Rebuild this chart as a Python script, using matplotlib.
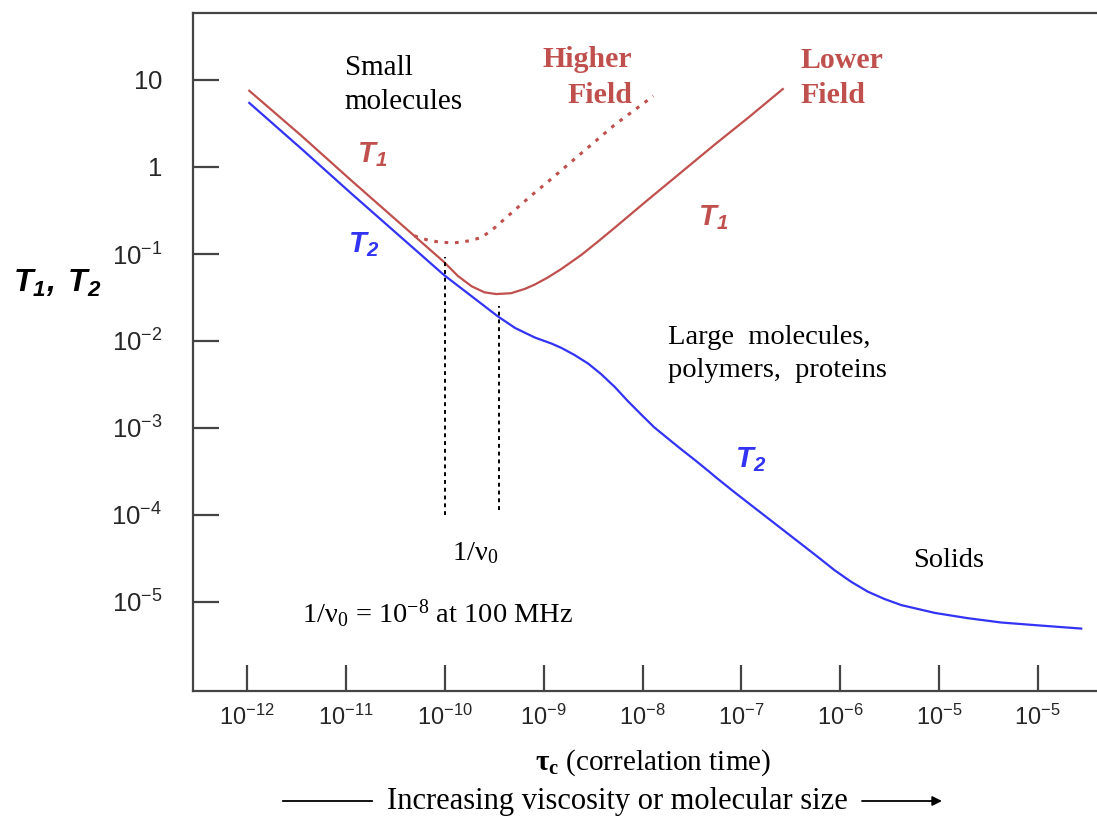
import numpy as np
import matplotlib
matplotlib.use("Agg")
import matplotlib.pyplot as plt
from matplotlib.lines import Line2D

plt.rcParams["font.family"] = "Liberation Serif"
plt.rcParams["mathtext.fontset"] = "custom"
plt.rcParams["mathtext.rm"] = "Liberation Serif"
plt.rcParams["mathtext.it"] = "Liberation Serif:italic"
plt.rcParams["mathtext.bf"] = "Liberation Serif:bold"
plt.rcParams["mathtext.sf"] = "Liberation Sans"
plt.rcParams["mathtext.bfit"] = "Liberation Sans:italic:bold"

# curves, as log10(tau_c) / log10(T)
t1_low_x = [-11.98, -11.45, -10.95, -10.44, -10.14, -10.01, -9.87, -9.73, -9.60,
            -9.48, -9.33, -9.19, -9.09, -8.96, -8.82, -8.62, -8.45, -8.28,
            -7.94, -7.61, -7.27, -6.93, -6.58]
t1_low_y = [0.88, 0.36, -0.15, -0.66, -0.96, -1.09, -1.25, -1.37, -1.44,
            -1.46, -1.45, -1.40, -1.35, -1.27, -1.17, -1.01, -0.855, -0.695,
            -0.37, -0.06, 0.26, 0.57, 0.90]

t1_high_x = [-10.31, -10.17, -10.04, -9.90, -9.77, -9.63, -9.50, -9.30, -9.13,
             -8.96, -8.62, -8.28, -7.89]
t1_high_y = [-0.79, -0.84, -0.865, -0.87, -0.85, -0.81, -0.70, -0.50, -0.33,
             -0.17, 0.16, 0.49, 0.82]

t2_x = [-11.98, -11.45, -10.95, -10.31, -10.01, -9.77, -9.46, -9.29, -9.09, -8.92,
        -8.82, -8.69, -8.55, -8.42, -8.28, -8.15, -8.01, -7.88, -7.74, -7.61,
        -7.47, -7.34, -7.24, -7.07, -6.90, -6.73, -6.56, -6.39, -6.22, -6.06,
        -5.89, -5.72, -5.55, -5.38, -5.04, -4.71, -4.37, -4.03, -3.56]
t2_y = [0.74, 0.21, -0.30, -0.94, -1.24, -1.45, -1.72, -1.85, -1.96, -2.03,
        -2.08, -2.16, -2.26, -2.38, -2.53, -2.69, -2.85, -2.995, -3.125, -3.245,
        -3.37, -3.49, -3.585, -3.74, -3.89, -4.04, -4.19, -4.34, -4.49, -4.635,
        -4.77, -4.885, -4.97, -5.04, -5.13, -5.19, -5.24, -5.27, -5.31]

# 1/nu0 markers: tau_c, top and bottom of each dashed line
marker_tau = [1e-10, 3.5e-10]
marker_top = [0.093, 0.025]
marker_bottom = [1e-4, 1.13e-4]

x_ticks = [1e-12, 1e-11, 1e-10, 1e-9, 1e-8, 1e-7, 1e-6, 1e-5, 1e-4]
x_labels = ["-12", "-11", "-10", "-9", "-8", "-7", "-6", "-5", "-5"]
y_ticks = [10, 1, 1e-1, 1e-2, 1e-3, 1e-4, 1e-5]
y_labels = ["10", "1", "10^{-1}", "10^{-2}", "10^{-3}", "10^{-4}", "10^{-5}"]

red = "#C0504D"
blue = "#3333F5"
axis_col = "#444444"

fig = plt.figure(figsize=(10.97, 8.18), dpi=100)
ax = fig.add_axes([0.1759, 0.1553, 0.8241, 0.8287])
ax.set_xscale("log")
ax.set_yscale("log")

ax.plot(10 ** np.array(t1_low_x), 10 ** np.array(t1_low_y), color=red, lw=1.6)
ax.plot(10 ** np.array(t1_high_x), 10 ** np.array(t1_high_y), color=red, lw=2.2,
        linestyle=(0, (1.2, 2.2)))
ax.plot(10 ** np.array(t2_x), 10 ** np.array(t2_y), color=blue, lw=1.6)

for t, top, bot in zip(marker_tau, marker_top, marker_bottom):
    ax.plot([t, t], [bot, top], color="black", lw=1.4, linestyle=(0, (2, 2)))

ax.set_xlim(10 ** -12.55, 10 ** -3.40)
ax.set_ylim(10 ** -6.028, 10 ** 1.774)
ax.set_xticks(x_ticks)
ax.set_xticklabels([r"$\mathsf{10^{%s}}$" % s for s in x_labels])
ax.set_yticks(y_ticks)
ax.set_yticklabels([r"$\mathsf{%s}$" % s for s in y_labels])
ax.minorticks_off()

ax.spines["right"].set_visible(False)
for side in ["left", "top", "bottom"]:
    ax.spines[side].set_color(axis_col)
    ax.spines[side].set_linewidth(1.6)
ax.tick_params(direction="in", length=19, width=1.6, color=axis_col,
               labelcolor="#262626", labelsize=18.5)
ax.tick_params(axis="y", pad=22)
ax.tick_params(axis="x", pad=10, labelsize=17)

# region labels
ax.text(0.168, 0.894, "Small\nmolecules", transform=ax.transAxes, fontsize=21,
        ha="left", va="center", linespacing=1.4)
ax.text(0.4856, 0.905, "Higher\nField", transform=ax.transAxes, fontsize=21.5,
        ha="right", va="center", linespacing=1.4, color=red, fontweight="bold",
        multialignment="right")
ax.text(0.6715, 0.904, "Lower\nField", transform=ax.transAxes, fontsize=21.5,
        ha="left", va="center", linespacing=1.4, color=red, fontweight="bold")
ax.text(0.5254, 0.497, "Large  molecules,\npolymers,  proteins", transform=ax.transAxes,
        fontsize=20.5, ha="left", va="center", linespacing=1.4)
ax.text(0.836, 0.193, "Solids", transform=ax.transAxes, fontsize=20.5,
        ha="center", va="center")
ax.text(0.312, 0.2035, r"$\mathrm{1/\nu_0}$", transform=ax.transAxes, fontsize=20.5,
        ha="center", va="center")
ax.text(0.1206, 0.1136, r"$\mathrm{1/\nu_0}$ = 10$^{-8}$ at 100 MHz",
        transform=ax.transAxes, fontsize=20.5, ha="left", va="center")

# curve names
ax.text(0.1814, 0.7906, r"$\mathbfit{T_1}$", transform=ax.transAxes, fontsize=21,
        color=red, ha="left", va="center")
ax.text(0.1715, 0.658, r"$\mathbfit{T_2}$", transform=ax.transAxes, fontsize=21,
        color=blue, ha="left", va="center")
ax.text(0.5586, 0.699, r"$\mathbfit{T_1}$", transform=ax.transAxes, fontsize=21,
        color=red, ha="left", va="center")
ax.text(0.5996, 0.3407, r"$\mathbfit{T_2}$", transform=ax.transAxes, fontsize=21,
        color=blue, ha="left", va="center")

fig.text(57 / 1097, 1 - 283 / 818, r"$\mathbfit{T_1,\ T_2}$", fontsize=23,
         ha="center", va="center")
fig.text(653 / 1097, 1 - 763 / 818, r"$\mathbf{\tau_c}$ (correlation time)",
         fontsize=21, ha="center", va="center")

# viscosity arrow under the axis title
y_arrow = 1 - 801 / 818
fig.text(617 / 1097, y_arrow, "Increasing viscosity or molecular size", fontsize=22,
         ha="center", va="center")
fig.add_artist(Line2D([283 / 1097, 372 / 1097], [y_arrow, y_arrow], color="black",
                      lw=1.3, transform=fig.transFigure))
ax.annotate("", xy=(942 / 1097, y_arrow), xytext=(862 / 1097, y_arrow),
            xycoords="figure fraction", textcoords="figure fraction",
            arrowprops=dict(arrowstyle="-|>", color="black", lw=1.3,
                            mutation_scale=14, shrinkA=0, shrinkB=0))

fig.savefig("out.png", dpi=100)
